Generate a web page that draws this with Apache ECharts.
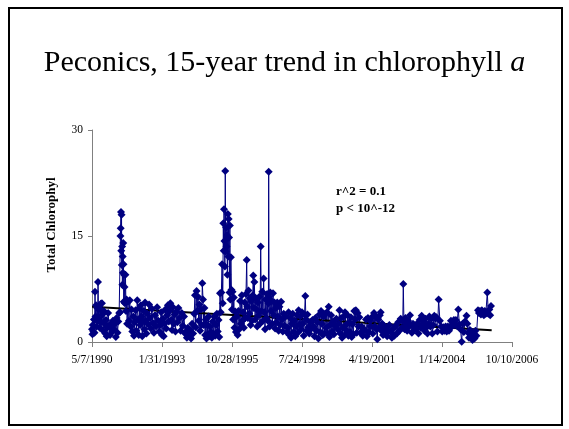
<!DOCTYPE html>
<html>
<head>
<meta charset="utf-8">
<script src="https://cdn.jsdelivr.net/npm/echarts@6/dist/echarts.min.js"></script>
<style>
  html, body { margin: 0; padding: 0; background: #fff; }
  #chart { width: 569px; height: 429px; }
</style>
</head>
<body>
<div id="chart"></div>
<script>
// sample dates are spreadsheet serial days (days since 12/30/1899), one line per year
const sampleDay = [
  33000,33006,33012,33020,33028,33036,33043,33050,33058,33066,33074,33080,33086,33094,33102,33110,33118,33126,33134,33142,33150,33160,33170,33180,33190,33200,33210,33220,33230,
  33245,33258,33270,33284,33298,33312,33326,33340,33352,33364,33376,33388,33400,33406,33410,33414,33418,33422,33426,33430,33434,33438,33442,33446,33450,33454,33458,33464,33470,33478,33486,33494,33502,33514,33528,33540,33552,33564,33576,33590,33600,
  33610,33622,33634,33646,33658,33668,33678,33688,33698,33708,33718,33728,33738,33748,33758,33768,33778,33790,33802,33815,33828,33840,33855,33870,33885,33900,33915,33930,33945,33960,
  33975,33988,34000,34012,34024,34036,34048,34060,34072,34084,34096,34108,34120,34132,34144,34156,34168,34180,34192,34206,34220,34234,34250,34266,34282,34298,34314,34330,
  34340,34355,34370,34385,34400,34415,34430,34445,34460,34471,34482,34494,34504,34514,34524,34534,34544,34556,34566,34576,34586,34596,34606,34616,34626,34636,34646,34656,34666,34676,34688,
  34700,34712,34724,34736,34748,34760,34772,34784,34796,34808,34818,34829,34838,34848,34858,34868,34876,34882,34886,34892,34898,34904,34910,34916,34922,34928,34934,34940,34946,34952,34958,34964,34970,34976,34984,34992,35000,35008,35016,35026,35036,35046,35056,
  35068,35080,35092,35104,35116,35128,35140,35150,35160,35170,35180,35190,35200,35210,35218,35226,35236,35246,35256,35266,35276,35286,35296,35304,35312,35320,35330,35340,35350,35360,35370,35380,35390,35400,35410,35420,
  35432,35442,35452,35462,35472,35482,35492,35502,35512,35520,35524,35530,35538,35546,35556,35566,35576,35586,35596,35606,35616,35626,35636,35646,35656,35666,35678,35690,35702,35714,35726,35738,35752,35766,35780,
  35796,35808,35820,35832,35844,35856,35868,35880,35892,35904,35916,35928,35940,35952,35964,35976,35988,36000,36012,36024,36036,36047,36056,36066,36078,36090,36104,36120,36136,36150,
  36164,36178,36192,36206,36220,36234,36248,36260,36272,36284,36296,36308,36320,36332,36344,36356,36368,36381,36392,36404,36416,36428,36442,36456,36472,36490,36508,
  36524,36536,36548,36560,36572,36584,36596,36608,36614,36626,36638,36650,36662,36674,36686,36698,36710,36722,36734,36746,36758,36770,36782,36794,36806,36820,36836,36852,36868,36884,
  36900,36914,36928,36942,36956,36970,36984,36998,37012,37029,37040,37052,37064,37076,37088,37100,37112,37124,37134,37146,37158,37170,37184,37200,37216,37232,37248,
  37266,37284,37302,37320,37338,37356,37374,37392,37410,37428,37440,37447,37456,37466,37478,37490,37502,37514,37528,37543,37556,37570,37586,37602,37616,
  37632,37648,37664,37680,37696,37710,37722,37736,37750,37764,37778,37792,37806,37820,37834,37848,37861,37876,37890,37905,37920,37935,37952,37970,
  37988,38004,38020,38036,38052,38067,38084,38100,38114,38128,38142,38156,38170,38184,38198,38212,38233,38248,38264,38281,38296,38312,38328,38350,
  38362,38374,38386,38398,38410,38422,38436,38450,38464,38478,38492,38514,38528,38542,38556,38570,38584,38598,38612,38626,38647,38662,38676,38688,38700
];
const chlA = [
  1.8,1.1,2.4,1.5,3.2,1.3,7.1,3.6,5.2,2.2,4.8,2.9,8.5,3.4,5.0,2.0,4.6,5.4,2.8,5.5,3.9,1.6,4.4,2.6,1.2,3.1,0.8,2.0,4.1,
  2.2,1.0,2.6,1.4,3.0,1.8,2.6,0.7,3.4,1.3,2.9,4.1,4.2,15.0,16.1,18.4,12.9,18.0,10.9,13.5,8.1,12.1,9.8,14.0,11.0,5.7,9.5,7.8,5.5,9.5,4.4,6.0,2.6,5.7,3.0,5.9,2.2,4.6,1.5,3.6,0.9,
  2.8,4.5,1.6,5.9,3.2,1.0,4.8,2.4,5.2,3.6,0.8,2.9,4.4,1.8,5.6,3.0,1.2,4.0,2.5,5.3,3.4,1.9,4.7,2.7,1.3,3.8,2.2,4.9,3.0,1.5,
  2.4,4.2,1.0,3.3,0.8,2.6,4.6,1.9,3.8,5.2,2.9,4.4,5.5,3.1,1.7,4.9,2.6,3.9,1.5,4.3,2.8,4.8,3.4,1.6,4.1,2.3,3.6,1.2,
  1.4,0.6,2.0,0.9,1.7,0.5,2.6,1.2,4.0,6.6,2.1,7.2,4.4,6.4,3.0,5.3,1.6,4.6,2.4,8.3,6.0,2.4,4.8,1.0,3.2,0.5,2.4,1.1,3.6,0.8,2.2,
  1.4,0.6,2.9,1.2,3.6,0.9,2.4,4.0,1.5,3.1,0.7,6.9,4.2,7.0,11.0,5.5,16.8,12.9,18.8,14.3,10.7,24.2,12.8,16.2,13.5,15.1,9.5,18.1,12.1,17.4,14.8,7.0,16.5,6.0,12.0,7.4,4.6,7.1,3.2,6.3,2.0,4.3,1.4,
  3.6,1.0,4.4,1.8,5.8,2.6,6.6,3.0,4.2,2.0,5.6,3.4,6.8,11.6,5.0,3.4,7.3,4.0,6.2,2.4,5.8,3.0,6.6,9.4,4.8,8.5,3.2,6.2,4.6,2.2,5.6,3.8,6.4,2.6,13.5,4.4,
  7.1,3.0,9.0,4.2,1.8,6.0,3.4,6.8,3.0,5.5,24.1,6.4,2.2,7.0,4.4,5.8,2.6,6.9,3.8,5.6,1.9,4.8,2.8,5.6,3.6,1.6,5.0,2.4,5.7,3.2,1.5,4.0,2.3,3.6,1.4,
  2.0,4.2,1.0,3.4,0.6,2.6,4.0,1.4,3.0,0.8,2.2,3.8,1.3,4.5,2.5,3.6,1.8,4.2,2.6,0.9,3.9,6.5,3.2,1.6,3.9,2.1,1.2,2.8,1.9,3.1,
  2.2,0.8,3.4,1.6,2.8,0.5,3.9,1.4,4.4,2.6,1.0,3.6,1.2,4.0,2.0,4.2,1.2,5.0,0.7,2.4,3.8,1.5,2.9,1.1,2.3,3.3,1.8,
  2.6,4.5,1.2,3.4,0.6,2.0,3.6,1.0,4.2,2.4,1.6,3.8,0.9,2.8,1.4,3.5,0.7,2.5,1.1,4.4,3.2,4.5,1.3,4.1,2.2,3.5,1.3,2.2,0.9,1.8,
  1.6,3.2,0.8,3.4,1.4,3.0,2.2,3.5,1.2,4.1,2.2,3.6,1.8,0.4,3.2,2.0,3.8,4.2,1.6,2.6,1.0,2.3,1.2,2.0,0.8,1.5,2.4,
  1.4,0.6,1.9,0.9,2.3,1.2,2.8,1.6,3.3,2.0,3.0,8.2,3.0,1.8,3.4,2.4,1.6,3.0,2.2,3.8,2.4,1.3,2.6,1.7,2.4,
  1.8,2.6,1.2,3.1,2.0,3.7,2.4,2.9,1.6,3.3,2.1,1.2,2.6,3.6,2.2,3.3,1.2,2.4,3.7,3.3,3.5,1.5,6.0,3.0,
  2.2,1.5,2.1,1.6,2.2,1.5,2.2,1.6,2.1,3.0,2.2,2.6,3.1,2.4,3.1,2.3,4.6,2.5,1.8,0.05,2.6,1.4,2.9,3.7,
  2.6,1.3,0.6,1.7,0.8,1.5,0.3,1.1,0.5,1.6,0.9,4.5,4.1,4.4,3.9,4.5,4.2,3.8,4.4,4.0,7.0,4.0,4.6,3.8,5.1
];
// linear trend line, start and end
const trendDay = [33000, 38710];
const trendValue = [5.0, 1.65];

const yTicks = [0, 15, 30];

function serialToLabel(v) {
  const d = new Date(Date.UTC(1899, 11, 30) + v * 86400000);
  return (d.getUTCMonth() + 1) + '/' + d.getUTCDate() + '/' + d.getUTCFullYear();
}

const serif = 'Liberation Serif';
const chart = echarts.init(document.getElementById('chart'), null, { renderer: 'canvas' });

const option = {
  animation: false,
  backgroundColor: '#fff',
  title: {
    text: '{n|Peconics, 15-year trend in chlorophyll }{i|a}',
    left: 'center',
    top: 43,
    textStyle: {
      fontWeight: 'normal',
      rich: {
        n: { fontFamily: serif, fontSize: 30, fontWeight: 'normal', color: '#000' },
        i: { fontFamily: serif, fontSize: 30, fontWeight: 'normal', color: '#000', fontStyle: 'italic' }
      }
    }
  },
  graphic: [
    {
      type: 'rect',
      shape: { x: 9, y: 8, width: 553, height: 417 },
      style: { fill: 'none', stroke: '#000', lineWidth: 2 },
      silent: true
    },
    {
      type: 'text',
      x: 52, y: 225,
      rotation: Math.PI / 2,
      style: {
        text: 'Total Chlorophyl',
        fontFamily: serif, fontSize: 13, fontWeight: 'bold', fill: '#000',
        align: 'center', verticalAlign: 'middle'
      }
    },
    {
      type: 'text',
      x: 336, y: 192,
      style: {
        text: 'r^2 = 0.1',
        fontFamily: serif, fontSize: 13, fontWeight: 'bold', fill: '#000',
        align: 'left', verticalAlign: 'middle'
      }
    },
    {
      type: 'text',
      x: 336, y: 209,
      style: {
        text: 'p < 10^-12',
        fontFamily: serif, fontSize: 13, fontWeight: 'bold', fill: '#000',
        align: 'left', verticalAlign: 'middle'
      }
    }
  ],
  grid: { left: 92, right: 57, top: 130, bottom: 87, containLabel: false },
  xAxis: {
    type: 'value',
    min: 33000,
    max: 39000,
    interval: 1000,
    splitLine: { show: false },
    axisLine: { lineStyle: { color: '#808080', width: 1 } },
    axisTick: { length: 5, lineStyle: { color: '#808080' } },
    axisLabel: {
      formatter: serialToLabel,
      fontFamily: serif, fontSize: 11.5, color: '#000', margin: 12
    }
  },
  yAxis: {
    type: 'value',
    min: yTicks[0],
    max: yTicks[yTicks.length - 1],
    interval: 15,
    splitLine: { show: false },
    axisLine: { show: true, lineStyle: { color: '#808080', width: 1 } },
    axisTick: { show: true, length: 4, lineStyle: { color: '#808080' } },
    axisLabel: { fontFamily: serif, fontSize: 11.5, color: '#000', margin: 9 }
  },
  series: [
    {
      name: 'Total Chlorophyl',
      type: 'line',
      data: sampleDay.map((d, i) => [d, chlA[i]]),
      symbol: 'diamond',
      symbolSize: 8,
      showAllSymbol: true,
      itemStyle: { color: '#000080' },
      lineStyle: { color: '#000080', width: 1 }
    },
    {
      name: 'trend',
      type: 'line',
      data: trendDay.map((d, i) => [d, trendValue[i]]),
      symbol: 'none',
      lineStyle: { color: '#000', width: 2 }
    }
  ]
};

chart.setOption(option);
</script>
</body>
</html>
